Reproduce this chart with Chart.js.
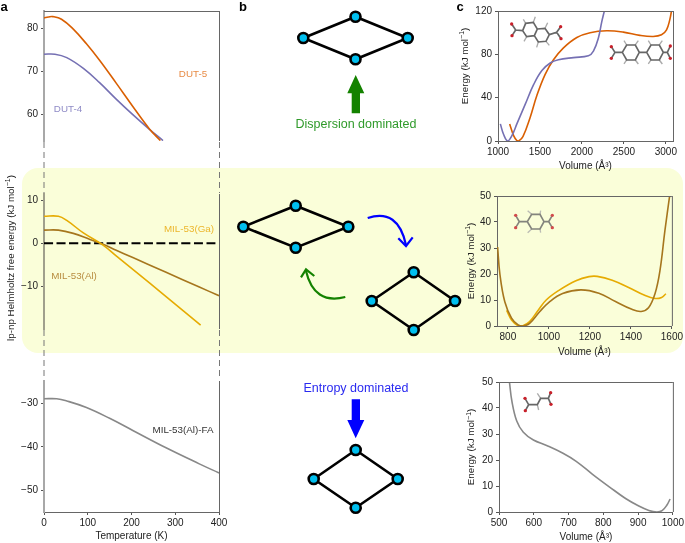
<!DOCTYPE html>
<html>
<head>
<meta charset="utf-8">
<title>Helmholtz free energy of flexible MOFs</title>
<script src="https://cdn.jsdelivr.net/npm/chart.js@4/dist/chart.umd.min.js"></script>
<style>
  html, body { margin: 0; padding: 0; background: #fff; }
  #page { position: relative; width: 685px; height: 543px; overflow: hidden; font-family: "Liberation Sans", sans-serif; }
  #band { position: absolute; left: 22px; top: 168px; width: 661px; height: 185px; background: #fafed9; border-radius: 16px; }
  canvas { position: absolute; }
  svg { position: absolute; left: 0; top: 0; }
  svg text { font-family: "Liberation Sans", sans-serif; font-size: 9.8px; }
</style>
</head>
<body>
<div id="page">
  <div id="band"></div>
  <svg id="overlay" width="685" height="543"></svg>
</div>
<script>
// panel a: lp-np free energy against temperature
const dut5Temp = [0, 10, 20, 40, 67, 97, 127, 165, 203, 241, 266];
const dut5Free = [82.4, 82.6, 82.7, 82.1, 79.8, 76.4, 72.6, 67.3, 61.9, 56.7, 54];
const dut4Temp = [0, 25, 52, 90, 127, 165, 203, 241, 272];
const dut4Free = [74, 74, 73.2, 70.7, 67.4, 63.6, 60, 56.6, 54];
const galTemp = [0, 33, 52, 90, 135, 165, 203, 279, 358];
const galFree = [6.26, 6.26, 5.3, 2.4, -0.4, -2.9, -6, -12.3, -18.9];
const alTemp = [0, 33, 67, 105, 135, 165, 203, 279, 355, 400];
const alFree = [3.05, 3.05, 2.3, 0.9, -0.2, -1.6, -3.3, -6.7, -10.1, -12.1];
const zeroTemp = [0, 400];
const zeroFree = [0, 0];
const faTemp = [0, 29, 52, 97, 150, 203, 279, 355, 400];
const faFree = [-28.9, -28.9, -29.4, -30.9, -33.4, -36.2, -40.2, -43.9, -46];

// panel c: energy against volume
const dut4Vol = [1028, 1067, 1115, 1166, 1226, 1325, 1424, 1523, 1622, 1720, 1899, 2077, 2137, 2196, 2236, 2267];
const dut4Energy = [15.8, 6, 0, 5, 16, 34, 52, 65, 72, 75, 77, 78.6, 83, 95, 110, 120];
const dut5Vol = [1139, 1186, 1226, 1245, 1297, 1384, 1463, 1562, 1661, 1780, 1939, 2097, 2295, 2493, 2691, 2849, 2948, 3008, 3047, 3067];
const dut5Energy = [15.8, 5, 0.3, 0, 4, 22, 42, 61.5, 75, 86, 95.6, 100, 101.7, 100.5, 97.5, 96.5, 98, 102.6, 112, 120];
const alVol = [750, 761, 785, 818, 850, 874, 906, 955, 1003, 1067, 1156, 1244, 1325, 1405, 1450, 1486, 1518, 1542, 1566, 1589];
const alEnergy = [30.4, 20, 9.3, 3, 0.4, 0, 1, 5.5, 9.3, 12.5, 13.9, 12.6, 9.4, 6.4, 5.6, 7, 12.5, 21.4, 36.7, 50];
const galVol = [794, 818, 850, 871, 906, 947, 987, 1051, 1132, 1196, 1236, 1309, 1389, 1470, 1518, 1550, 1571];
const galEnergy = [6, 2.3, 0.1, 0, 1.7, 6, 10, 13.8, 17.4, 19, 19.1, 17.6, 14.8, 11.7, 10.6, 11, 12.4];
const faVol = [530, 537, 551, 570, 599, 637, 684, 722, 769, 817, 864, 902, 931, 954, 969, 983, 992];
const faEnergy = [50, 42.7, 35, 30.7, 27.7, 25.6, 22.6, 19.5, 14.5, 9.7, 5.2, 2.3, 0.6, 0, 0.5, 2.7, 5];

// tick labels
const tempTicks = [0, 100, 200, 300, 400];
const topFreeTicks = [60, 70, 80];
const midFreeTicks = [-10, 0, 10];
const lowFreeTicks = [-50, -40, -30];
const vol1Ticks = [1000, 1500, 2000, 2500, 3000];
const vol2Ticks = [800, 1000, 1200, 1400, 1600];
const vol3Ticks = [500, 600, 700, 800, 900, 1000];
const energy1Ticks = [0, 40, 80, 120];
const energyTicks = [0, 10, 20, 30, 40, 50];

const ORANGE = '#d95f02', PURPLE = '#7570b3', GOLD = '#e6ab02', BROWN = '#a6761d', GREY = '#888888';
const INK = '#222';
const tickFont = { family: '"Liberation Sans", sans-serif', size: 10 };

function series(xs, ys, color, width) {
  return {
    data: xs.map((x, i) => ({ x: x, y: ys[i] })),
    borderColor: color,
    borderWidth: width || 1.6,
    pointRadius: 0,
    tension: 0.4
  };
}

// top and right frame lines, the library only draws the left and bottom ones
const framePlugin = {
  id: 'frame',
  afterDatasetsDraw(chart) {
    const a = chart.chartArea, c = chart.ctx;
    c.save();
    c.strokeStyle = '#666';
    c.lineWidth = 1;
    c.beginPath();
    if (chart.options.plugins.frame.top) {
      c.moveTo(a.left, a.top + 0.5);
      c.lineTo(a.right, a.top + 0.5);
    }
    c.moveTo(a.right + 0.5, a.top);
    c.lineTo(a.right + 0.5, a.bottom);
    c.stroke();
    c.restore();
  }
};

function addPanel(p) {
  const ml = 40, mt = 8, mr = 12, mb = p.mb || 0;
  const canvas = document.createElement('canvas');
  const w = p.r - p.l + ml + mr, h = p.b - p.t + mt + Math.max(mb, 8);
  canvas.width = w;
  canvas.height = h;
  canvas.style.left = (p.l - ml) + 'px';
  canvas.style.top = (p.t - mt) + 'px';
  canvas.style.width = w + 'px';
  canvas.style.height = h + 'px';
  document.getElementById('page').insertBefore(canvas, document.getElementById('overlay'));

  new Chart(canvas.getContext('2d'), {
    type: 'line',
    data: { datasets: p.datasets },
    plugins: [framePlugin],
    options: {
      responsive: false,
      animation: false,
      layout: { padding: { top: mt, right: mr, bottom: mb ? 0 : 8, left: 0 } },
      plugins: {
        legend: { display: false },
        tooltip: { enabled: false },
        frame: { top: p.top !== false }
      },
      scales: {
        x: {
          type: 'linear',
          display: !!p.xTicks,
          min: p.xMin,
          max: p.xMax,
          grid: { drawOnChartArea: false, tickLength: 3, tickColor: '#555' },
          border: { color: '#666' },
          ticks: {
            font: tickFont,
            color: INK,
            padding: 2,
            maxRotation: 0,
            autoSkip: false,
            callback: v => String(v)
          },
          title: { display: !!p.xTitle, text: p.xTitle, font: tickFont, color: INK, padding: 0 },
          afterBuildTicks: ax => { ax.ticks = (p.xTicks || []).map(v => ({ value: v })); },
          afterFit: ax => { ax.height = mb; }
        },
        y: {
          min: p.yMin,
          max: p.yMax,
          grid: { drawOnChartArea: false, tickLength: 3, tickColor: '#555' },
          border: { color: p.leftColor || '#666', width: p.leftWidth || 1 },
          ticks: {
            font: tickFont,
            color: INK,
            padding: 3,
            autoSkip: false,
            callback: v => String(v).replace('-', '\u2212')
          },
          afterBuildTicks: ax => { ax.ticks = p.yTicks.map(v => ({ value: v })); },
          afterFit: ax => { ax.width = ml; }
        }
      }
    }
  });
}

addPanel({
  l: 44, r: 219, t: 10, b: 142, top: true, xMin: 0, xMax: 400, yMin: 53.9, yMax: 84,
  yTicks: topFreeTicks, leftColor: '#a8a8a8', leftWidth: 2,
  datasets: [series(dut5Temp, dut5Free, ORANGE), series(dut4Temp, dut4Free, PURPLE)]
});
addPanel({
  l: 44, r: 219, t: 193, b: 330, top: false, xMin: 0, xMax: 400, yMin: -19.8, yMax: 11.4,
  yTicks: midFreeTicks, leftColor: '#a0a08c', leftWidth: 2,
  datasets: [
    series(galTemp, galFree, GOLD),
    series(alTemp, alFree, BROWN),
    Object.assign(series(zeroTemp, zeroFree, '#000', 2), { borderDash: [9, 3.5] })
  ]
});
addPanel({
  l: 44, r: 219, t: 380, b: 512, top: false, xMin: 0, xMax: 400, yMin: -55, yMax: -24.8,
  xTicks: tempTicks, xTitle: 'Temperature (K)', mb: 30,
  yTicks: lowFreeTicks, leftColor: '#a8a8a8', leftWidth: 2,
  datasets: [series(faTemp, faFree, GREY)]
});
addPanel({
  l: 498, r: 673, t: 10, b: 141, xMin: 1000, xMax: 3085, yMin: 0, yMax: 120,
  xTicks: vol1Ticks, xTitle: 'Volume (Å³)', mb: 31, yTicks: energy1Ticks,
  datasets: [series(dut4Vol, dut4Energy, PURPLE), series(dut5Vol, dut5Energy, ORANGE)]
});
addPanel({
  l: 497, r: 673, t: 195, b: 326, xMin: 747, xMax: 1600, yMin: 0, yMax: 50,
  xTicks: vol2Ticks, xTitle: 'Volume (Å³)', mb: 32, yTicks: energyTicks,
  datasets: [series(alVol, alEnergy, BROWN), series(galVol, galEnergy, GOLD)]
});
addPanel({
  l: 499, r: 674, t: 381, b: 512, xMin: 500, xMax: 1000, yMin: 0, yMax: 50,
  xTicks: vol3Ticks, xTitle: 'Volume (Å³)', mb: 31, yTicks: energyTicks,
  datasets: [series(faVol, faEnergy, GREY)]
});

// everything below is schematic decoration, it carries no data
const NS = 'http://www.w3.org/2000/svg';
const overlay = document.getElementById('overlay');

function el(tag, attrs, text, parent) {
  const node = document.createElementNS(NS, tag);
  Object.keys(attrs).forEach(k => node.setAttribute(k, attrs[k]));
  if (text) node.textContent = text;
  (parent || overlay).appendChild(node);
  return node;
}

function label(text, x, y, color, extra) {
  return el('text', Object.assign({ x: x, y: y, fill: color, 'text-anchor': 'middle' }, extra || {}), text);
}

// rotated axis label with a real superscript
function yLabel(prefix, x, y) {
  const t = el('text', { transform: 'translate(' + x + ',' + y + ') rotate(-90)', fill: INK, 'text-anchor': 'middle' }, prefix + ' (kJ mol');
  el('tspan', { dy: -3.5, style: 'font-size:7px' }, '\u22121', t);
  el('tspan', { dy: 3.5 }, ')', t);
}

yLabel('lp-np Helmholtz free energy', 13.5, 258);
yLabel('Energy', 467.5, 66);
yLabel('Energy', 473.5, 261);
yLabel('Energy', 474, 447);

label('a', 4, 10.5, '#000', { style: 'font-size:13px;font-weight:bold' });
label('b', 243, 10.5, '#000', { style: 'font-size:13px;font-weight:bold' });
label('c', 460, 10.5, '#000', { style: 'font-size:13px;font-weight:bold' });

label('DUT-5', 193, 76.5, '#e88b45');
label('DUT-4', 68, 111.5, '#8f8bc6');
label('MIL-53(Ga)', 189, 232, '#ecb62c');
label('MIL-53(Al)', 74, 279, '#b88d40');
label('MIL-53(Al)-FA', 183, 432.5, '#333');

label('Dispersion dominated', 356, 127.5, '#2f9a2a', { style: 'font-size:12.5px' });
label('Entropy dominated', 356, 392, '#2a2af0', { style: 'font-size:12.5px' });

// broken axis dashes between the three stacked panels of a
[44, 219.5].forEach(x => {
  [[142, 193], [330, 380]].forEach(span => {
    el('line', { x1: x, x2: x, y1: span[0], y2: span[1], stroke: '#777', 'stroke-width': 1, 'stroke-dasharray': '6 4' });
  });
});

function rhombus(left, top, right, bottom, cx, cy) {
  const nodes = [[left, cy], [cx, top], [right, cy], [cx, bottom]];
  el('polygon', { points: nodes.map(n => n.join(',')).join(' '), fill: 'none', stroke: '#000', 'stroke-width': 2.6 });
  nodes.forEach(n => {
    el('circle', { cx: n[0], cy: n[1], r: 5, fill: '#00bfef', stroke: '#000', 'stroke-width': 2.6 });
  });
}

rhombus(303.3, 16.7, 407.7, 59.3, 355.5, 38);
rhombus(243.3, 205.7, 348.3, 247.7, 295.7, 226.7);
rhombus(371.7, 272.3, 455, 330, 413.7, 301);
rhombus(313.7, 450, 397.7, 507.7, 355.7, 479);

// large arrows
el('polygon', { points: '355.7,75 364.3,93.3 360,93.3 360,113.3 351.7,113.3 351.7,93.3 347.3,93.3', fill: '#148200' });
el('polygon', { points: '351.7,399.3 360,399.3 360,420 364.3,420 355.7,438.3 347.3,420 351.7,420', fill: '#0000ff' });

// curved arrows in the band
el('path', { d: 'M367.7 218 Q398 208 406 245', fill: 'none', stroke: '#0000ff', 'stroke-width': 2.2 });
el('polyline', { points: '398.3,238.3 406,246 412.7,237.3', fill: 'none', stroke: '#0000ff', 'stroke-width': 2.2 });
el('path', { d: 'M345.3 297 Q314 305 306 271', fill: 'none', stroke: '#148200', 'stroke-width': 2.2 });
el('polyline', { points: '301,277.3 306,269.3 314.3,276', fill: 'none', stroke: '#148200', 'stroke-width': 2.2 });

// ball and stick linkers, coordinates are in 3x crop units of the panel
function molecule(ox, oy, opacity, bonds, hydrogens, oxygens) {
  const g = el('g', { transform: 'translate(' + ox + ',' + oy + ') scale(0.3333)', opacity: opacity });
  hydrogens.forEach(h => {
    el('line', { x1: h[0], y1: h[1], x2: h[2], y2: h[3], stroke: '#aaa', 'stroke-width': 4 }, null, g);
  });
  el('path', { d: bonds, fill: 'none', stroke: '#666', 'stroke-width': 5 }, null, g);
  oxygens.forEach(o => {
    el('circle', { cx: o[0], cy: o[1], r: 5, fill: '#c8202a' }, null, g);
  });
}

molecule(450, 0, 1,
  'M218 92L227 70L250 67L262 87L253 107L230 110Z M262 87L285 85L298 104L288 124L265 126L253 107 M218 92L197 90L185 72 M197 90L186 107 M298 104L320 97L332 80 M320 97L333 116',
  [[227, 70, 220, 58], [250, 67, 256, 50], [285, 85, 293, 68], [288, 124, 298, 136], [265, 126, 260, 142], [230, 110, 222, 124]],
  [[185, 72], [186, 107], [332, 80], [333, 116]]);
molecule(450, 0, 1,
  'M517 157L530 135L556 135L568 157L556 180L530 180Z M590 157L603 135L628 135L640 157L628 180L603 180Z M568 157L590 157 M517 157L495 157L484 140 M495 157L484 175 M640 157L652 157L661 138 M652 157L661 175',
  [[530, 135, 522, 122], [556, 135, 565, 122], [603, 135, 595, 122], [628, 135, 637, 122], [530, 180, 522, 192], [556, 180, 565, 192], [603, 180, 595, 192], [628, 180, 637, 192]],
  [[484, 140], [484, 175], [661, 138], [661, 175]]);
molecule(450, 180, 0.8,
  'M232 125L245 103L270 103L282 125L270 147L245 147Z M232 125L208 125L197 106 M208 125L197 143 M282 125L296 125L307 106 M296 125L307 143',
  [[245, 103, 233, 92], [270, 103, 272, 92], [245, 147, 233, 158], [270, 147, 272, 158]],
  [[197, 106], [197, 143], [307, 106], [307, 143]]);
molecule(450, 370, 1,
  'M225 85L236 104L226 122 M236 104L262 104L272 85L295 85L302 68 M295 85L303 103',
  [[262, 104, 266, 120], [272, 85, 262, 70]],
  [[225, 85], [226, 122], [302, 68], [303, 103]]);
</script>
</body>
</html>
